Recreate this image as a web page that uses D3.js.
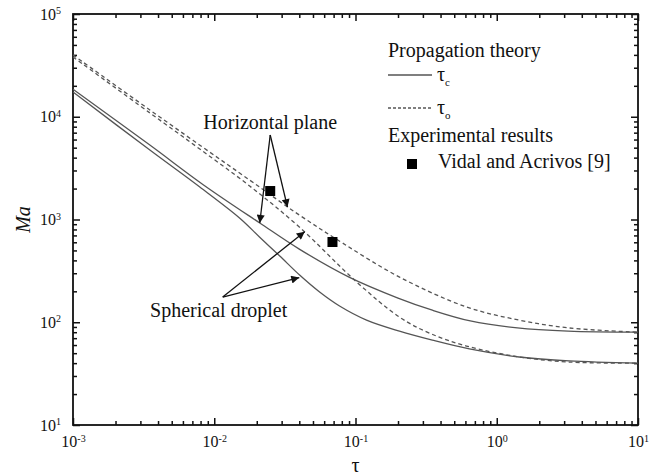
<!DOCTYPE html>
<html><head><meta charset="utf-8">
<script src="https://cdn.jsdelivr.net/npm/d3@7"></script>
<style>
body{margin:0;background:#fff}
svg{display:block}
text{font-family:"Liberation Serif","Times New Roman",serif;fill:#111}
</style>
</head><body>
<svg id="c" width="653" height="475"></svg>
<script>
// ---- data ----
const xDecades = [-3, -2, -1, 0, 1];
const yDecades = [1, 2, 3, 4, 5];
// Horizontal plane, tau_c (solid)
const hcTau = [0.001, 0.0035, 0.0084, 0.021, 0.04, 0.09, 0.2, 0.35, 0.65, 1.4, 3.2, 10];
const hcMa  = [18500, 5300, 2170, 925, 515, 275, 172, 131, 103, 88, 82, 80];
// Spherical droplet, tau_c (solid)
const scTau = [0.001, 0.0035, 0.0079, 0.0151, 0.0209, 0.0291, 0.0402, 0.0557, 0.0771, 0.1197, 0.2047, 0.35, 0.64, 1.44, 3.25, 10];
const scMa  = [17400, 4740, 2070, 1035, 676, 441, 288, 197, 144, 105, 82, 67, 55, 45.9, 42, 40];
// Horizontal plane, tau_o (dashed)
const hoTau = [0.001, 0.0035, 0.0178, 0.040, 0.081, 0.205, 0.61, 1.44, 3.25, 10];
const hoMa  = [40000, 11640, 2420, 1106, 590, 275, 141, 105, 88, 80];
// Spherical droplet, tau_o (dashed)
const soTau = [0.001, 0.0035, 0.0079, 0.0178, 0.040, 0.1017, 0.205, 0.333, 0.61, 1.44, 3.25, 10];
const soMa  = [38200, 10900, 4850, 2120, 845, 247, 112, 78.5, 58.7, 46, 41, 40];
// Experimental: Vidal and Acrivos [9]
const expTau = [0.0249, 0.0687];
const expMa  = [1893, 604];
// legend / annotation text
const legendTitle1 = "Propagation theory";
const legendTitle2 = "Experimental results";
const expLabel = "Vidal and Acrivos [9]";
const annH = "Horizontal plane";
const annS = "Spherical droplet";
// annotation arrows [tailTau, tailMa, tipTau, tipMa]
const arrowsH = [[0.0249, 6640, 0.021, 925], [0.0249, 6640, 0.033, 1320]];
const arrowsS = [[0.01148, 176, 0.0437, 760], [0.01148, 176, 0.040, 272]];

// ---- layout ----
const L = 73, R = 638, T = 14, B = 425;
const svg = d3.select("#c");
const x = d3.scaleLog().domain([1e-3, 10]).range([L, R]);
const y = d3.scaleLog().domain([10, 1e5]).range([B, T]);
const lineCol = "#555";

const defs = svg.append("defs");
defs.append("marker").attr("id", "ah").attr("viewBox", "0 0 10 10")
  .attr("refX", 10).attr("refY", 5).attr("markerWidth", 12).attr("markerHeight", 8)
  .attr("markerUnits", "userSpaceOnUse").attr("orient", "auto")
  .append("path").attr("d", "M0,0 L10,5 L0,10 z").attr("fill", "#111");

// minor tick values
const minorX = [], minorY = [];
for (let e = -3; e < 1; e++) for (let k = 2; k <= 9; k++) minorX.push(k * Math.pow(10, e));
for (let e = 1; e < 5; e++) for (let k = 2; k <= 9; k++) minorY.push(k * Math.pow(10, e));
const majorX = xDecades.map(d => Math.pow(10, d));
const majorY = yDecades.map(d => Math.pow(10, d));

function powLabels(g) {
  g.selectAll("text").attr("font-size", "16px").each(function(d){
    const t = d3.select(this); const e = Math.round(Math.log10(d));
    t.append("tspan").text("10");
    t.append("tspan").attr("dy", "-0.55em").attr("font-size", "10px").text(e);
  });
}

// axes
svg.append("g").attr("transform", `translate(0,${B})`)
  .call(d3.axisBottom(x).tickValues(majorX).tickSize(-7).tickPadding(11).tickFormat(() => ""))
  .call(powLabels);
svg.append("g").attr("transform", `translate(0,${B})`)
  .call(d3.axisBottom(x).tickValues(minorX).tickSize(-4).tickFormat(() => ""));
svg.append("g").attr("transform", `translate(0,${T})`)
  .call(d3.axisTop(x).tickValues(majorX).tickSize(-7).tickFormat(() => ""));
svg.append("g").attr("transform", `translate(0,${T})`)
  .call(d3.axisTop(x).tickValues(minorX).tickSize(-4).tickFormat(() => ""));

svg.append("g").attr("transform", `translate(${L},0)`)
  .call(d3.axisLeft(y).tickValues(majorY).tickSize(-7).tickPadding(12).tickFormat(() => ""))
  .call(powLabels);
svg.append("g").attr("transform", `translate(${L},0)`)
  .call(d3.axisLeft(y).tickValues(minorY).tickSize(-4).tickFormat(() => ""));
svg.append("g").attr("transform", `translate(${R},0)`)
  .call(d3.axisRight(y).tickValues(majorY).tickSize(-7).tickFormat(() => ""));
svg.append("g").attr("transform", `translate(${R},0)`)
  .call(d3.axisRight(y).tickValues(minorY).tickSize(-4).tickFormat(() => ""));

svg.selectAll(".domain").remove();
svg.selectAll(".tick line").attr("stroke", "#111").attr("stroke-width", 1.5);
svg.append("rect").attr("x", L).attr("y", T).attr("width", R - L).attr("height", B - T)
  .attr("fill", "none").attr("stroke", "#111").attr("stroke-width", 1.8);

// axis titles
svg.append("text").attr("x", (L + R) / 2).attr("y", 472).attr("text-anchor", "middle")
  .attr("font-size", "20px").text("τ");
svg.append("text").attr("transform", `translate(30,${(T + B) / 2}) rotate(-90)`)
  .attr("text-anchor", "middle").attr("font-size", "20px").attr("font-style", "italic").text("Ma");

// curves
const line = d3.line().x(d => x(d[0])).y(d => y(d[1])).curve(d3.curveCatmullRom.alpha(0.5));
const series = [
  {tau: hcTau, ma: hcMa, dash: null},
  {tau: scTau, ma: scMa, dash: null},
  {tau: hoTau, ma: hoMa, dash: "4,3"},
  {tau: soTau, ma: soMa, dash: "4,3"}
];
defs.append("clipPath").attr("id", "clip").append("rect")
  .attr("x", L).attr("y", T).attr("width", R - L).attr("height", B - T);
svg.append("g").attr("clip-path", "url(#clip)").selectAll("path").data(series).join("path")
  .attr("d", s => line(s.tau.map((t, i) => [t, s.ma[i]])))
  .attr("fill", "none").attr("stroke", lineCol).attr("stroke-width", 1.3)
  .attr("stroke-dasharray", s => s.dash);

// experimental points
svg.selectAll("rect.exp").data(expTau.map((t, i) => [t, expMa[i]])).join("rect")
  .attr("class", "exp").attr("x", d => x(d[0]) - 5).attr("y", d => y(d[1]) - 5)
  .attr("width", 10).attr("height", 10).attr("fill", "#000");

// annotations
svg.append("g").selectAll("line").data(arrowsH.concat(arrowsS)).join("line")
  .attr("x1", d => x(d[0])).attr("y1", d => y(d[1]))
  .attr("x2", d => x(d[2])).attr("y2", d => y(d[3]))
  .attr("stroke", "#111").attr("stroke-width", 1.3).attr("marker-end", "url(#ah)");
svg.append("text").attr("x", x(arrowsH[0][0])).attr("y", y(arrowsH[0][1]) - 6)
  .attr("text-anchor", "middle").attr("font-size", "20px").text(annH);
svg.append("text").attr("x", x(arrowsS[0][0]) - 4).attr("y", y(arrowsS[0][1]) + 20)
  .attr("text-anchor", "middle").attr("font-size", "20px").text(annS);

// legend
const lg = svg.append("g");
lg.append("text").attr("x", 388).attr("y", 57).attr("font-size", "20px").text(legendTitle1);
lg.append("line").attr("x1", 388).attr("x2", 432).attr("y1", 75).attr("y2", 75)
  .attr("stroke", lineCol).attr("stroke-width", 1.3);
const t1 = lg.append("text").attr("x", 437).attr("y", 81).attr("font-size", "20px");
t1.append("tspan").text("τ"); t1.append("tspan").attr("dy", "5").attr("font-size", "11px").text("c");
lg.append("line").attr("x1", 388).attr("x2", 432).attr("y1", 108).attr("y2", 108)
  .attr("stroke", lineCol).attr("stroke-width", 1.3).attr("stroke-dasharray", "3,2");
const t2 = lg.append("text").attr("x", 437).attr("y", 114).attr("font-size", "20px");
t2.append("tspan").text("τ"); t2.append("tspan").attr("dy", "5").attr("font-size", "11px").text("o");
lg.append("text").attr("x", 388).attr("y", 142).attr("font-size", "20px").text(legendTitle2);
lg.append("rect").attr("x", 407).attr("y", 159).attr("width", 10).attr("height", 10).attr("fill", "#000");
lg.append("text").attr("x", 438).attr("y", 168).attr("font-size", "20px").text(expLabel);
</script>
</body></html>
